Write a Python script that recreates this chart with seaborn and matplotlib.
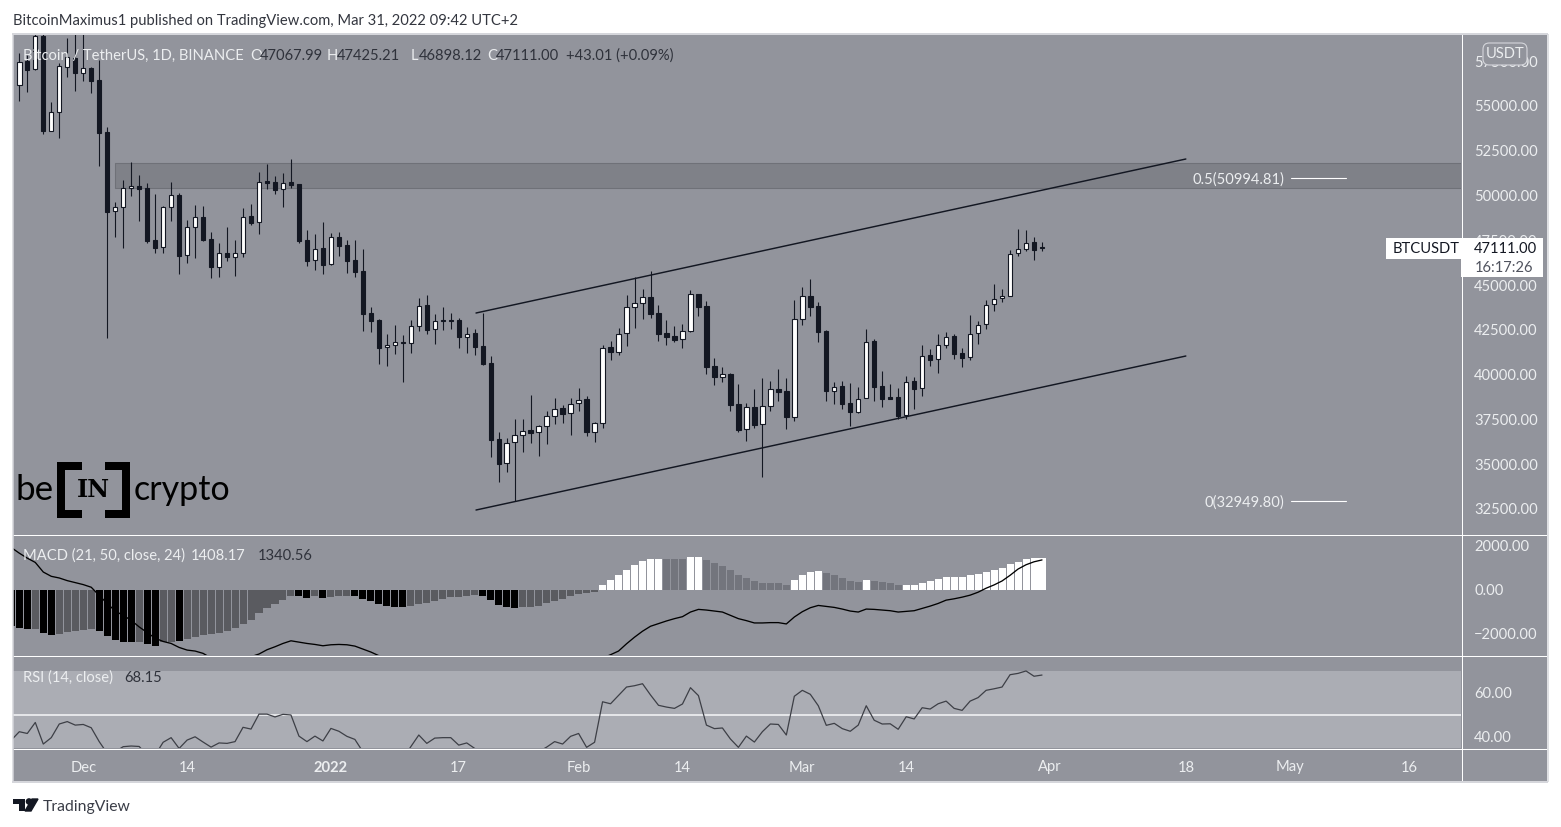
import pandas as pd
import numpy as np
import matplotlib.pyplot as plt
import seaborn as sns
from matplotlib.lines import Line2D
from matplotlib.patches import Rectangle, FancyBboxPatch, Polygon, Circle
from matplotlib.transforms import ScaledTranslation

# daily candles, Nov 23 2021 -> Mar 31 2022
opens = [56171, 57511, 57048, 58907, 53620, 54647, 57193, 57679, 56858, 57104,
         56451, 53531, 49120, 49343, 50404, 50533, 50404, 47501, 47110, 49343,
         50013, 46664, 48260, 48785, 47557, 46027, 46775, 46585, 46809, 48841,
         48506, 50795, 50739, 50348, 50739, 50628, 47501, 46385, 47054, 46161,
         47669, 47222, 46401, 45770, 43425, 43051, 41527, 41639, 41823, 41751,
         42700, 43872, 42532, 43035, 43035, 43051, 42119, 42309, 41583, 40634,
         36391, 35051, 36223, 36614, 36893, 36782, 37117, 37675, 38122, 37843,
         38401, 38624, 36815, 37284, 41527, 41281, 42309, 43760, 43984, 44319,
         43425, 42309, 42141, 41974, 42454, 44486, 43816, 40466, 39886, 40037,
         38345, 36949, 38194, 37228, 38267, 39182, 39070, 37653, 43091, 44375,
         43816, 42421, 39104, 39350, 38401, 37932, 38680, 41863, 39350, 38736,
         38736, 37731, 39629, 39238, 41081, 40857, 41672, 42141, 41192, 40969,
         42309, 42811, 43928, 44263, 44408, 46775, 47032, 47389, 47111]
closes = [57472, 57009, 58907, 53620, 54647, 57232, 57718, 56858, 57104, 56412,
          53508, 49098, 49343, 50404, 50516, 50382, 47479, 47071, 49343, 50013,
          46641, 48260, 48785, 47518, 46027, 46775, 46585, 46809, 48819, 48484,
          50773, 50717, 50326, 50717, 50589, 47479, 46362, 47032, 46139, 47669,
          47200, 46362, 45748, 43403, 43012, 41505, 41639, 41806, 41751, 42700,
          43850, 42510, 43012, 43012, 43012, 42119, 42287, 41561, 40612, 36368,
          35028, 36201, 36614, 36871, 36760, 37117, 37675, 38099, 37820, 38378,
          38602, 36815, 37284, 41505, 41281, 42287, 43760, 43984, 44319, 43403,
          42287, 42119, 41952, 42454, 44486, 43794, 40444, 39886, 40019, 38323,
          36926, 38177, 37206, 38267, 39182, 39048, 37653, 43091, 44375, 43794,
          42398, 39088, 39328, 38378, 37932, 38658, 41840, 39328, 38658, 38658,
          37709, 39607, 39216, 41058, 40835, 41672, 42119, 41153, 40947, 42287,
          42789, 43906, 44241, 44408, 46753, 47032, 47367, 46976, 47068]
highs = [57958, 57846, 60000, 60000, 55206, 57383, 58795, 59500, 59500, 57193,
         57567, 53810, 49623, 50868, 51856, 51147, 50717, 50086, 49416, 50739,
         50125, 48618, 49472, 49416, 47965, 47334, 48260, 47518, 49304, 49528,
         51314, 51744, 51091, 51242, 52023, 50644, 48076, 47853, 48523, 47892,
         47965, 47518, 47518, 47016, 43760, 43090, 42270, 42772, 42214, 43035,
         44280, 44447, 43387, 43777, 43425, 43146, 42661, 42532, 43425, 41025,
         36782, 36447, 37524, 37524, 38864, 37173, 37971, 38680, 38289, 38680,
         39238, 38791, 37340, 41672, 41879, 42588, 44447, 45435, 44782, 45770,
         43872, 43051, 42716, 42811, 44710, 44520, 44095, 40913, 40427, 40076,
         39478, 38434, 39199, 39796, 39629, 40316, 39796, 44168, 44877, 45324,
         44040, 42476, 39573, 39629, 39517, 39294, 42532, 41974, 40187, 39478,
         39238, 39925, 39853, 41639, 41416, 42253, 42364, 42253, 41471, 43314,
         42979, 44168, 45044, 44766, 46943, 48115, 48076, 47669, 47425]
lows = [55295, 55797, 57009, 53436, 53620, 53229, 56635, 55853, 56412, 55742,
        51666, 42030, 47702, 47088, 49991, 48595, 47333, 46809, 46775, 48595,
        45636, 46250, 46513, 47479, 45413, 45469, 46362, 45525, 46585, 48372,
        47853, 50382, 50086, 49377, 50438, 47333, 46083, 45860, 45636, 46139,
        46641, 45692, 45469, 42454, 42398, 40612, 40500, 41170, 39607, 41226,
        42454, 42287, 41728, 42493, 42549, 41488, 41226, 41097, 40556, 35420,
        34023, 34581, 32950, 35698, 36201, 35475, 36145, 37262, 37318, 36648,
        37988, 36592, 36257, 37039, 40835, 41114, 41600, 42605, 43107, 43180,
        41879, 41656, 41840, 41488, 42398, 43292, 40053, 39423, 39590, 37988,
        36815, 36313, 37022, 34303, 37988, 38529, 36983, 37429, 42789, 43275,
        41840, 38529, 38362, 38082, 37133, 37876, 38680, 38529, 38211, 38658,
        37541, 37541, 38082, 38808, 40483, 40109, 41488, 40874, 40444, 40835,
        41712, 42549, 43571, 44073, 44408, 46641, 46921, 46401, 46898]

# indicators start one bar earlier than the candles (bar -1 is cut by the pane edge)
hist_vals = [-1647, -1737, -1781, -1781, -1961, -2066, -2006, -1916, -1886, -1826,
             -1796, -1886, -2096, -2275, -2365, -2365, -2365, -2455, -2545, -2365,
             -2365, -2320, -2230, -2141, -2066, -2021, -1976, -1886, -1751, -1557,
             -1392, -1078, -838, -659, -479, -299, -299, -389, -299, -389,
             -344, -299, -299, -299, -434, -524, -659, -749, -794, -794,
             -749, -659, -614, -524, -434, -344, -344, -299, -254, -299,
             -479, -704, -794, -838, -794, -794, -734, -629, -509, -419,
             -284, -195, -150, -90, 210, 434, 659, 883, 1108, 1287,
             1377, 1377, 1377, 1377, 1377, 1467, 1467, 1332, 1198, 1063,
             883, 659, 524, 389, 299, 299, 299, 210, 434, 659,
             793, 838, 749, 659, 524, 389, 344, 434, 389, 344,
             299, 210, 210, 210, 299, 389, 479, 569, 569, 569,
             659, 704, 793, 883, 973, 1153, 1243, 1377, 1422, 1408]
# 1 = momentum growing (solid colour), 0 = fading
hist_strong = ("11101100000" "11111011001" "00000000000000" "11010001111111"
               "000000000" "11111" "0000000000" "11111111" "000" "11"
               "00000000000" "1111" "00000" "1" "0000" "111111111111111111")
macd_vals = [1901, 1647, 1422, 1228, 793, 599, 524, 404, 314, 225,
             105, -269, -629, -973, -1168, -1392, -1691, -1946, -2201, -2350,
             -2440, -2620, -2740, -2784, -2889, -3099, -3293, -3293, -3219, -3144,
             -3039, -2919, -2725, -2590, -2440, -2320, -2380, -2440, -2485, -2545,
             -2500, -2485, -2500, -2560, -2695, -2829, -2994, -3150, -3300, -3450,
             -3550, -3600, -3650, -3700, -3750, -3780, -3800, -3820, -3840, -3860,
             -3900, -3980, -4060, -4120, -4150, -4150, -4120, -4050, -3950, -3820,
             -3650, -3500, -3350, -3200, -3100, -2950, -2784, -2455, -2156, -1886,
             -1662, -1542, -1422, -1317, -1228, -1018, -898, -928, -973, -1018,
             -1168, -1317, -1407, -1512, -1512, -1497, -1497, -1557, -1243, -1003,
             -823, -719, -763, -808, -883, -973, -1018, -883, -898, -928,
             -958, -1018, -988, -958, -853, -749, -629, -479, -419, -344,
             -254, -120, 60, 210, 389, 644, 928, 1123, 1257, 1341]
rsi_vals = [38.6, 42.4, 41.6, 46.6, 36.8, 39.7, 45.9, 47.0, 45.4, 45.7,
            44.2, 37.9, 32.6, 33.3, 35.6, 35.9, 35.7, 31.8, 31.8, 37.6,
            39.7, 34.8, 38.6, 40.1, 37.7, 35.4, 37.3, 37.1, 37.9, 44.4,
            43.6, 50.4, 50.4, 49.1, 50.3, 50.0, 40.4, 37.9, 40.4, 38.2,
            43.9, 42.6, 40.3, 38.9, 33.3, 30.3, 25.7, 25.7, 26.5, 30.3,
            35.6, 40.9, 37.1, 39.5, 39.7, 39.7, 36.3, 37.3, 34.8, 30.3,
            22.7, 20.4, 22.0, 25.7, 27.3, 30.3, 33.3, 35.4, 37.9, 36.8,
            40.3, 41.6, 35.3, 37.6, 56.0, 55.1, 58.9, 62.7, 63.3, 64.2,
            59.1, 54.4, 53.6, 53.0, 55.0, 62.4, 58.8, 45.4, 43.8, 44.1,
            39.1, 35.3, 40.4, 37.7, 42.4, 45.9, 45.7, 40.9, 58.5, 61.2,
            59.4, 54.2, 45.3, 46.2, 43.8, 42.6, 45.4, 54.2, 47.6, 45.9,
            46.0, 43.5, 49.2, 48.2, 53.3, 52.7, 55.1, 56.3, 53.0, 52.1,
            56.3, 57.9, 61.2, 61.9, 62.7, 68.3, 68.9, 70.0, 67.6, 68.15]

# drawings on the chart, (bar, price)
upper_channel = [(57.16, 43442), (146.0, 52040)]
lower_channel = [(57.16, 32443), (146.0, 41041)]
zone_start = 11.96
zone_prices = (50421, 51817)
fib_bars = (159.2, 166.0)
fib_prices = [50994.81, 32949.80]
fib_labels = ['0.5(50994.81)', '0(32949.80)']

price_ticks = [32500, 35000, 37500, 40000, 42500, 45000, 47500, 50000, 52500, 55000, 57500]
macd_ticks = [-2000, 0, 2000]
rsi_ticks = [40, 60]
date_ticks = [8, 21, 39, 55, 70, 83, 98, 111, 129, 146, 159, 174]
date_labels = ['Dec', '14', '2022', '17', 'Feb', '14', 'Mar', '14', 'Apr', '18', 'May', '16']

W, H = 1561, 827
BG = '#92949c'
BAND = '#abadb4'
INK = '#131722'
LIGHT = '#eceef0'
DARK = '#2f323b'
TEXT_PX = 14.8

sns.set_theme(style='white')
plt.rcParams['font.family'] = ['Lato', 'DejaVu Sans']
plt.rcParams['axes.unicode_minus'] = True

fig = plt.figure(figsize=(W / 100, H / 100), dpi=100, facecolor='white')
nudge = ScaledTranslation(0, -1.4 / 100, fig.dpi_scale_trans)


def pane(left, top, right, bottom):
    ax = fig.add_axes([left / W, 1 - bottom / H, (right - left) / W, (bottom - top) / H])
    for s in ax.spines.values():
        s.set_visible(False)
    return ax


def put(x, y, s, color=LIGHT, size=TEXT_PX, **kw):
    kw.setdefault('va', 'center')
    return fig.text(x / W, 1 - (y + 1.5) / H, s, color=color, fontsize=size * 0.72, zorder=20, **kw)


def fig_line(xs, ys, color, lw, zorder=15, **kw):
    fig.add_artist(Line2D([x / W for x in xs], [1 - y / H for y in ys], color=color,
                          lw=lw * 0.72, zorder=zorder, solid_capstyle='butt', **kw))


def fig_rect(x0, y0, x1, y1, color, zorder=15, **kw):
    fig.add_artist(Rectangle((x0 / W, 1 - y1 / H), (x1 - x0) / W, (y1 - y0) / H, color=color,
                             transform=fig.transFigure, zorder=zorder, lw=0, **kw))


back = pane(13, 34, 1547, 782)
back.set_facecolor(BG)
back.set_xticks([])
back.set_yticks([])

ax_price = pane(13, 34, 1461, 534)
ax_macd = pane(13, 535, 1461, 655)
ax_rsi = pane(13, 656, 1461, 748)
xlim = (-0.79, 180.44)


def right_axis(ax, ticks):
    ax.set_facecolor('none')
    ax.yaxis.tick_right()
    ax.set_yticks(ticks)
    ax.set_yticklabels([f'{t:.2f}'.replace('-', '\u2212') for t in ticks], color=LIGHT, fontsize=TEXT_PX * 0.72)
    for lab in ax.get_yticklabels():
        lab.set_transform(lab.get_transform() + nudge)
    ax.tick_params(axis='y', length=0, pad=9.4)
    ax.set_xlim(*xlim)


# price pane
ax_price.add_patch(Rectangle((zone_start, zone_prices[0]), 400, zone_prices[1] - zone_prices[0],
                             facecolor='#7f8188', edgecolor='#6f7178', lw=0.8, zorder=1))
bars = np.arange(len(opens))
opens_a, closes_a = np.array(opens), np.array(closes)
up = closes_a > opens_a
ax_price.vlines(bars, lows, highs, color=INK, lw=0.8, zorder=2)
body_low = np.minimum(opens_a, closes_a)
body_h = np.abs(closes_a - opens_a)
ax_price.bar(bars[up], body_h[up], bottom=body_low[up], width=0.55, color='white', edgecolor=INK, lw=0.8, zorder=3)
ax_price.bar(bars[~up], body_h[~up], bottom=body_low[~up], width=0.55, color=INK, edgecolor=INK, lw=0.8, zorder=3)
for line in (upper_channel, lower_channel):
    ax_price.plot([p[0] for p in line], [p[1] for p in line], color=INK, lw=1.05, zorder=4)
for price, label in zip(fib_prices, fib_labels):
    ax_price.plot(fib_bars, [price, price], color='white', lw=0.8, zorder=4)
    t = ax_price.text(fib_bars[0] - 0.85, price, label, ha='right', va='center', color=LIGHT, fontsize=TEXT_PX * 0.72)
    t.set_transform(t.get_transform() + nudge)
right_axis(ax_price, price_ticks)
ax_price.set_ylim(31104, 59019)
ax_price.set_xticks([])

# macd pane
macd_idx = np.arange(-1, len(opens))
hist_df = pd.DataFrame({'bar': macd_idx, 'hist': hist_vals, 'strong': [c == '1' for c in hist_strong]})
hist_df['state'] = np.where(hist_df['hist'] < 0,
                            np.where(hist_df['strong'], 'neg_strong', 'neg_fade'),
                            np.where(hist_df['strong'], 'pos_strong', 'pos_fade'))
palette = {'neg_strong': '#000000', 'neg_fade': '#5a5b60', 'pos_strong': '#ffffff', 'pos_fade': '#73757d'}
sns.barplot(data=hist_df, x='bar', y='hist', hue='state', palette=palette, native_scale=True, dodge=False,
            width=0.88, saturation=1, linewidth=0, legend=False, ax=ax_macd)
sns.lineplot(x=macd_idx, y=macd_vals, color='black', lw=0.95, ax=ax_macd, zorder=5)
right_axis(ax_macd, macd_ticks)
ax_macd.set_ylim(-2963, 2470)
ax_macd.set_xticks([])
ax_macd.set(xlabel='', ylabel='')

# rsi pane
ax_rsi.axhspan(30, 70, color=BAND, lw=0, zorder=0)
ax_rsi.axhline(50, color='#e6e7ea', lw=1.4, zorder=1)
sns.lineplot(x=macd_idx, y=rsi_vals, color='#3d3f46', lw=0.9, ax=ax_rsi, zorder=3)
right_axis(ax_rsi, rsi_ticks)
ax_rsi.set_ylim(35, 76.8)
ax_rsi.set_xticks(date_ticks)
ax_rsi.set_xticklabels(date_labels, color=LIGHT, fontsize=TEXT_PX * 0.72)
ax_rsi.get_xticklabels()[2].set_fontweight('bold')
ax_rsi.tick_params(axis='x', length=0, pad=9)
ax_rsi.set(xlabel='', ylabel='')

# separators and frame
fig_line([13, 1547], [534.5, 534.5], 'white', 1)
fig_line([13, 1547], [655.5, 655.5], 'white', 1)
fig_line([13, 1547], [748.5, 748.5], 'white', 1)
fig_line([1461.5, 1461.5], [34, 782], 'white', 1)
fig_line([12, 1548], [34, 34], '#d5d6db', 2)
fig_line([12, 1548], [782, 782], '#d5d6db', 2)
fig_line([12.5, 12.5], [34, 782], '#d5d6db', 1.5)
fig_line([1547.5, 1547.5], [34, 782], '#d5d6db', 1.5)

# header and pane legends
put(13, 19, 'BitcoinMaximus1 published on TradingView.com, Mar 31, 2022 09:42 UTC+2', color='#33363f')
put(23, 54, 'Bitcoin / TetherUS, 1D, BINANCE')
for x, head, val, gap in [(250, 'O', '47067.99', 10), (327, 'H', '47425.21', 10),
                          (411, 'L', '46898.12', 8), (487, 'C', '47111.00', 9)]:
    put(x, 54, head)
    put(x + gap, 54, val, color=DARK)
put(566, 54, '+43.01 (+0.09%)', color=DARK)
put(23, 554, 'MACD (21, 50, close, 24)')
put(191, 554, '1408.17')
put(258, 554, '1340.56', color=DARK)
put(23, 676, 'RSI (14, close)')
put(124, 676, '68.15', color=DARK)

# price tag and currency badge
fig.add_artist(FancyBboxPatch((1483 / W, 1 - 65 / H), 44 / W, 22 / H, boxstyle='round,pad=0,rounding_size=0.004',
                              facecolor=BG, edgecolor='#d5d6db', lw=0.8, transform=fig.transFigure, zorder=16,
                              mutation_aspect=W / H))
put(1505, 52, 'USDT', ha='center')
fig_rect(1386, 238, 1543, 259, 'white', zorder=16)
fig_rect(1461, 259, 1543, 277, 'white', zorder=16)
put(1393, 248, 'BTCUSDT', color=INK)
put(1474, 248, '47111.00', color=INK)
put(1475, 266, '16:17:26', color='#50535e')

# beincrypto mark
put(15, 488, 'be', color='black', size=35, family='Lato')
put(134, 488, 'crypto', color='black', size=34, family='Lato')
put(93.5, 489, 'IN', color='black', size=24, family='DejaVu Serif', weight='bold', ha='center')
fig_line([82, 61, 61, 82], [466, 466, 514, 514], 'black', 8, solid_joinstyle='miter')
fig_line([105, 126, 126, 105], [466, 466, 514, 514], 'black', 8, solid_joinstyle='miter')

# footer
fig_rect(13, 799, 25, 804, '#131722')
fig_rect(19, 799, 25, 811, '#131722')
fig.add_artist(Circle((29, H - 801.5), 2.6, color='#131722', transform=None, zorder=15))
fig.add_artist(Polygon([(32 / W, 1 - 799 / H), (38 / W, 1 - 799 / H), (31 / W, 1 - 811 / H), (25 / W, 1 - 811 / H)],
                       color='#131722', transform=fig.transFigure, zorder=15))
put(43, 805, 'TradingView', color='#3a3d47', size=15.8)

fig.savefig('out.png', dpi=100)
